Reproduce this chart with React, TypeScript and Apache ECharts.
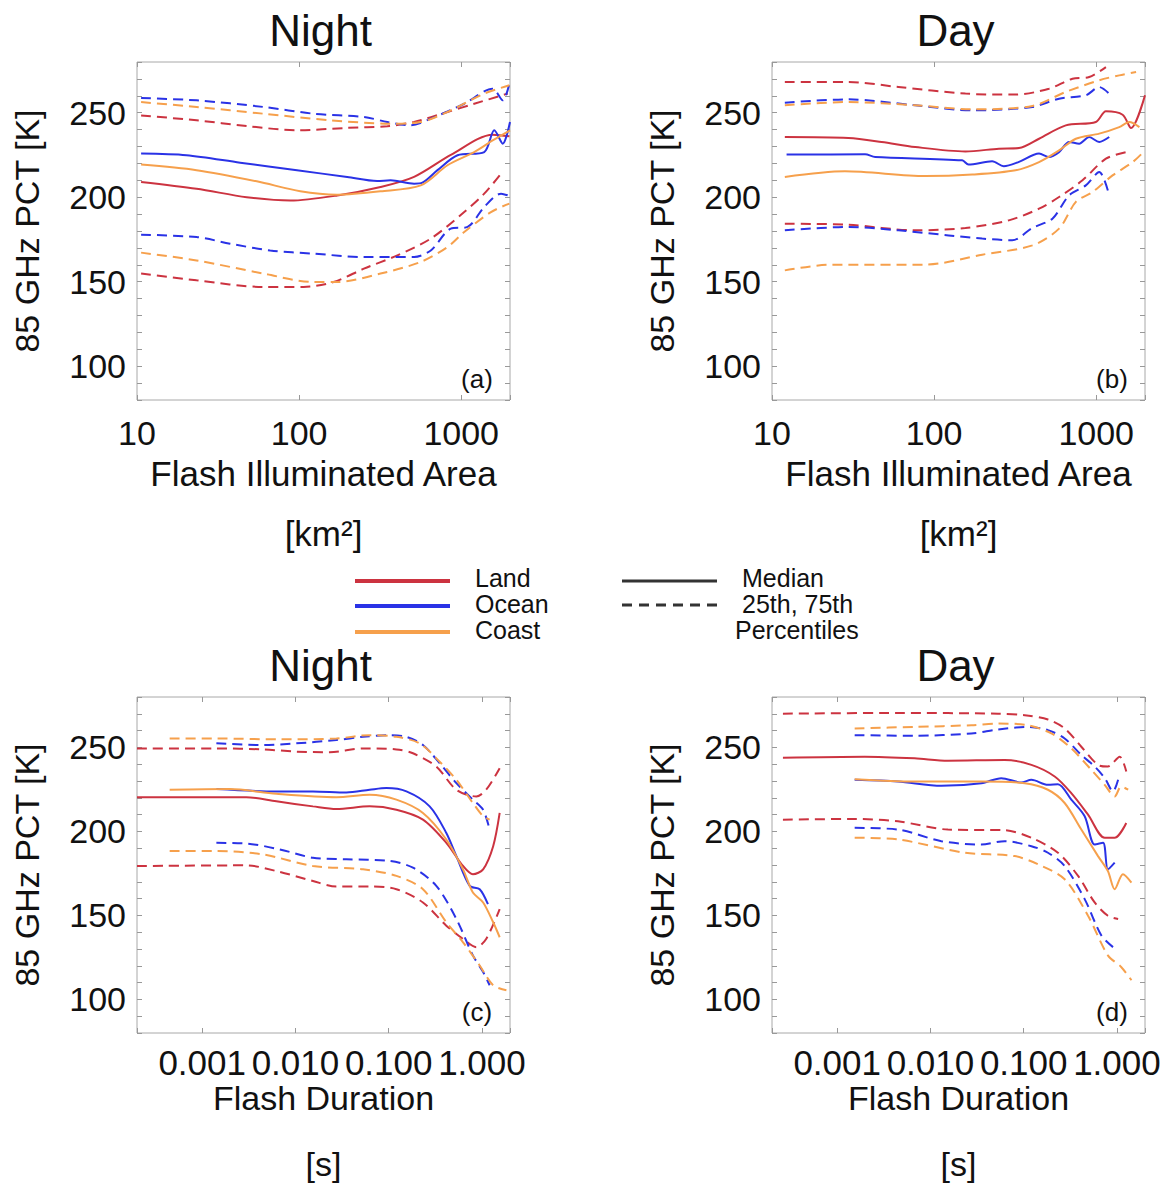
import React, { useEffect, useRef } from "react";
import * as echarts from "echarts";

// ---------- Data (x, 85 GHz PCT [K]) ----------
// Panel (a): Night, Flash Illuminated Area [km2]
const aLandMed = [[10.6,209],[23.3,205],[47.5,200],[88.1,198],[172,201],[318,206],[512,212],[863,225],[1563,237],[1983,236]];
const aOceanMed = [[10.6,225.8],[20.2,224.8],[43.3,220.4],[97,215.9],[198,212],[303,209.6],[367,210],[512,208],[576,208.6],[714,216],[949,224.8],[1387,226.7],[1600,239.6],[1804,231.7],[2000,244.5]];
const aCoastMed = [[10.6,219.3],[23.3,216],[54.8,209.4],[101.7,203.5],[172,201.5],[318,203.5],[563,207],[823,218.9],[1203,226.7],[1563,233.6],[2000,239.6]];
const aLandP75 = [[10.6,248.4],[23.3,245.5],[47.5,242.1],[97,239.6],[198,241],[350,242],[512,244.5],[823,250.4],[1203,255.3],[1937,261.3]];
const aOceanP75 = [[10.6,258.7],[23.3,257.3],[60.3,253.4],[123,249.4],[251,247.5],[350,244.5],[488,242.5],[649,246.5],[1044,255.3],[1563,264.2],[1804,257.3],[1983,267.2]];
const aCoastP75 = [[10.6,256.3],[23.3,253.4],[60.3,249.4],[156,245.5],[367,243.5],[563,244.5],[863,251.4],[1387,261.3],[1983,266.2]];
const aLandP25 = [[10.6,154.8],[23.3,150.8],[60.3,146.9],[106.6,146.9],[163,149.8],[251,157.7],[404,165.6],[649,175.5],[1044,191.2],[1387,202.1],[1762,213.9]];
const aOceanP25 = [[10.6,177.8],[23.3,176.4],[37.5,172.5],[66.3,168.5],[123,166.6],[251,164.6],[512,164.6],[649,168.5],[863,181.4],[1094,182.4],[1387,194.2],[1762,202.1],[1937,201.1]];
const aCoastP25 = [[10.6,167.2],[23.3,162.6],[60.3,154.8],[123,149.8],[172,149.8],[318,154.8],[563,161.7],[823,170.5],[1044,179.4],[1526,191.2],[1983,196.2]];

// Panel (b): Day, Flash Illuminated Area [km2]
const bLandMed = [[12,235.6],[29.6,235],[47.5,232.7],[76.4,229.7],[156,227.1],[251,228.7],[334,229.1],[444,234.6],[649,242.5],[995,244.5],[1148,250.8],[1455,248.8],[1640,240.9],[2000,260.3]];
const bOceanMed = [[12.3,225.2],[37.5,225.4],[43.3,223.8],[149,221.8],[163,219.3],[228,221.3],[269,218.3],[334,220.9],[444,225.8],[512,223.8],[590,226.7],[681,232.7],[785,231.7],[905,235.6],[1044,232.7],[1203,235.6]];
const bCoastMed = [[12,212],[28.2,215.3],[88.1,212.5],[172,213.4],[318,215.9],[444,220.8],[590,227.7],[749,234.6],[1044,237.6],[1387,241.5],[1600,244.5],[1847,241.5]];
const bLandP75 = [[12,268.2],[29.6,268.2],[60.3,265.2],[156,261.3],[318,260.7],[512,264.2],[714,270.1],[905,271.1],[1148,277]];
const bOceanP75 = [[12,255.9],[29.6,257.9],[76.4,254.4],[172,251.4],[404,253.4],[590,258.3],[863,260.3],[1044,265.2],[1203,261.3]];
const bCoastP75 = [[12,254.4],[29.6,256.3],[76.4,254.4],[172,252],[404,254],[649,262.3],[1044,269.2],[1387,272.1],[1762,274.1]];
const bLandP25 = [[12,184.3],[29.6,183.7],[76.4,180.4],[156,181.8],[289,186.3],[444,193.2],[590,200.1],[823,210],[1148,222.8],[1526,226.7]];
const bOceanP25 = [[12,180.4],[29.6,182.4],[60.3,180.4],[123,177.4],[198,175.5],[303,174.5],[404,181.8],[537,187.3],[681,201.1],[863,207],[1044,214.9],[1203,201.1]];
const bCoastP25 = [[12,156.7],[23.3,160.1],[88.1,160.1],[198,166],[404,171.5],[590,181.4],[749,197.2],[949,203.1],[1262,212.9],[1680,220.8],[2000,227.7]];

// Panel (c): Night, Flash Duration [s]
const cLandMed = [[0.0002,220.4],[0.00297,220.4],[0.00624,217.9],[0.0154,214.9],[0.0275,213.3],[0.0625,214.9],[0.121,212.9],[0.233,207],[0.415,193.2],[0.627,179.4],[0.8,174.5],[1.03,177.4],[1.32,191.2],[1.55,211]];
const cOceanMed = [[0.00142,225.2],[0.00624,223.8],[0.0154,223.8],[0.0352,223.2],[0.0625,224.8],[0.0944,225.8],[0.155,223.8],[0.275,214.9],[0.415,199.1],[0.532,185.3],[0.74,167.6],[0.946,165.6],[1.16,156.7]];
const cCoastMed = [[0.000448,224.8],[0.00197,225.2],[0.00624,222.4],[0.0275,220.4],[0.0625,221.8],[0.121,218.9],[0.233,211],[0.415,195.2],[0.627,177.4],[0.8,163.6],[1.03,157.7],[1.32,145.9],[1.55,137]];
const cLandP75 = [[0.0002,249.4],[0.00142,249.4],[0.00449,248.8],[0.0102,247.5],[0.0233,247.1],[0.0531,249.4],[0.121,248.8],[0.182,246.5],[0.324,238.6],[0.532,224.8],[0.871,220.8],[1.11,224.8],[1.55,237.6]];
const cOceanP75 = [[0.00142,252.4],[0.00449,251.4],[0.0102,252.4],[0.0275,254.4],[0.0531,256.3],[0.1025,257.3],[0.155,256.3],[0.233,251.4],[0.352,240.6],[0.532,228.7],[0.8,218.9],[1.03,212.9],[1.21,201.1]];
const cCoastP75 = [[0.000448,255.3],[0.00142,255.3],[0.00678,254.8],[0.0275,255.3],[0.0625,257.3],[0.121,256.3],[0.215,252.4],[0.352,241.5],[0.532,230.7],[0.8,216.9],[1.03,209],[1.21,207]];
const cLandP25 = [[0.0002,179.4],[0.00297,179.8],[0.00624,176.4],[0.0154,170.5],[0.0275,167.2],[0.0625,167.2],[0.121,165.6],[0.233,157.7],[0.415,143.9],[0.627,136],[0.871,131.1],[1.11,136],[1.55,153.8]];
const cOceanP25 = [[0.00142,193.2],[0.00297,192.8],[0.00678,189.3],[0.0154,184.3],[0.0352,183.4],[0.1025,182.4],[0.182,178.4],[0.324,167.6],[0.532,147.9],[0.8,126.2],[1.03,116.3],[1.21,108.4]];
const cCoastP25 = [[0.000448,188.3],[0.00142,188.3],[0.00449,186.3],[0.0154,179.4],[0.0531,177.4],[0.121,173.5],[0.233,165.6],[0.415,145.9],[0.627,134],[0.946,120.2],[1.32,108.4],[1.83,105.4]];

// Panel (d): Day, Flash Duration [s]
const dLandMed = [[0.000262,243.9],[0.00197,244.5],[0.00678,243.5],[0.0154,242.1],[0.0625,242.5],[0.121,239.6],[0.215,232.7],[0.324,222.8],[0.49,210],[0.74,196.2],[0.946,196.2],[1.26,205]];
const dOceanMed = [[0.00154,230.7],[0.00449,229.7],[0.0131,227.1],[0.0352,228.7],[0.0575,231.7],[0.0944,229.1],[0.121,230.7],[0.182,227.7],[0.233,228.1],[0.324,218.9],[0.451,209],[0.577,192.2],[0.71,193.2],[0.8,177.4],[0.946,181.4]];
const dCoastMed = [[0.00154,231.1],[0.00678,229.7],[0.0352,229.7],[0.1025,228.7],[0.182,224.8],[0.275,216.9],[0.415,201.1],[0.627,185.3],[0.8,176.4],[0.946,165.6],[1.16,174.5],[1.43,169.5]];
const dLandP75 = [[0.000262,270.1],[0.00449,270.5],[0.0531,270.1],[0.1025,269.2],[0.182,266.6],[0.275,261.3],[0.415,250.4],[0.627,239.6],[0.8,238.6],[1.07,244.5],[1.26,235.6]];
const dOceanP75 = [[0.00154,257.3],[0.00678,256.9],[0.0275,258.3],[0.0531,260.7],[0.111,262.2],[0.182,260.3],[0.275,255.3],[0.415,245.5],[0.577,238.6],[0.74,231.7],[0.908,223.8],[1.03,230.7]];
const dCoastP75 = [[0.00154,261.3],[0.00678,262.2],[0.0275,263.2],[0.0531,264.2],[0.111,263.2],[0.198,258.3],[0.324,249.4],[0.532,236.6],[0.74,227.7],[0.946,220.8],[1.11,226.7],[1.32,224.8]];
const dLandP25 = [[0.000262,207],[0.00154,207.4],[0.00449,206],[0.0154,201.1],[0.0625,200.7],[0.121,196.2],[0.233,187.3],[0.383,173.5],[0.577,157.7],[0.8,149.8],[1.03,147.9]];
const dOceanP25 = [[0.00154,202.1],[0.00449,201.1],[0.0131,194.2],[0.0352,192.2],[0.0625,194.2],[0.121,191.2],[0.182,187.3],[0.275,179.4],[0.451,159.7],[0.681,138],[0.908,131.1]];
const dCoastP25 = [[0.00154,196.2],[0.00449,195.2],[0.0233,187.3],[0.08,185.3],[0.1425,180.4],[0.275,171.5],[0.49,149.8],[0.8,126.2],[1.11,119.3],[1.43,111.4]];

// ---------- Labels ----------
const TITLES = ["Night", "Day", "Night", "Day"];
const TAGS = ["(a)", "(b)", "(c)", "(d)"];
const Y_NAME = "85 GHz PCT [K]";
const AREA_NAME = "Flash Illuminated Area\n[km²]";
const DUR_NAME = "Flash Duration\n[s]";
const LEGEND_REGIONS = ["Land", "Ocean", "Coast"];
const LEGEND_STATS = ["Median", "25th, 75th", "Percentiles"];
const Y_MIN = 80;
const Y_MAX = 280;
const AREA_MIN = 10;
const AREA_MAX = 2000;
const DUR_MIN = 0.0002;
const DUR_MAX = 2;

// ---------- Styles ----------
const FONT = '"Liberation Sans", Arial, Helvetica, sans-serif';
const RED = "#cc3340";
const BLUE = "#2a32e6";
const ORANGE = "#f6a04c";
const TXT = "#111111";
const BOX = "#a8a8a8";
const DASH = [10, 6];

const PANELS = [
  { left: 137, top: 62, height: 338, kind: "area", sets: [[aLandMed, aLandP25, aLandP75], [aOceanMed, aOceanP25, aOceanP75], [aCoastMed, aCoastP25, aCoastP75]] },
  { left: 772, top: 62, height: 338, kind: "area", sets: [[bLandMed, bLandP25, bLandP75], [bOceanMed, bOceanP25, bOceanP75], [bCoastMed, bCoastP25, bCoastP75]] },
  { left: 137, top: 697, height: 336, kind: "dur", sets: [[cLandMed, cLandP25, cLandP75], [cOceanMed, cOceanP25, cOceanP75], [cCoastMed, cCoastP25, cCoastP75]] },
  { left: 772, top: 697, height: 336, kind: "dur", sets: [[dLandMed, dLandP25, dLandP75], [dOceanMed, dOceanP25, dOceanP75], [dCoastMed, dCoastP25, dCoastP75]] },
];
const PANEL_W = 373;
const COLORS = [RED, BLUE, ORANGE];

function isDecade(v: number) {
  const l = Math.log10(v);
  return Math.abs(l - Math.round(l)) < 1e-6;
}

function textEl(text: string, x: number, y: number, size: number, align = "center") {
  return {
    type: "text",
    x,
    y,
    silent: true,
    style: {
      text,
      fill: TXT,
      fontSize: size,
      fontFamily: FONT,
      align,
      textAlign: align,
      verticalAlign: "middle",
      textVerticalAlign: "middle",
    },
  };
}

function buildOption() {
  const grid: any[] = [];
  const xAxis: any[] = [];
  const yAxis: any[] = [];
  const series: any[] = [];
  const graphic: any[] = [];

  PANELS.forEach((p, i) => {
    grid.push({
      left: p.left,
      top: p.top,
      width: PANEL_W,
      height: p.height,
      show: true,
      borderColor: BOX,
      borderWidth: 1,
      backgroundColor: "transparent",
      containLabel: false,
      outerBoundsMode: "none",
    });
    const isArea = p.kind === "area";
    const xmin = isArea ? AREA_MIN : DUR_MIN;
    const xmax = isArea ? AREA_MAX : DUR_MAX;
    const tick = { show: true, inside: true, length: 5, lineStyle: { color: "#999", width: 1 } };
    xAxis.push({
      type: "log",
      logBase: 10,
      gridIndex: i,
      min: xmin,
      max: xmax,
      position: "bottom",
      axisLine: { show: false },
      axisTick: tick,
      splitLine: { show: false },
      axisLabel: {
        fontSize: isArea ? 34 : 35,
        fontFamily: FONT,
        color: TXT,
        margin: isArea ? 16 : 12,
        formatter: (v: number) => (isDecade(v) ? (isArea ? String(Math.round(v)) : v.toFixed(3)) : ""),
      },
      name: isArea ? AREA_NAME : DUR_NAME,
      nameLocation: "middle",
      nameGap: isArea ? 43 : 32,
      nameMoveOverlap: false,
      nameTextStyle: { fontSize: isArea ? 35 : 34, fontFamily: FONT, color: TXT, lineHeight: isArea ? 60 : 66 },
    });
    xAxis.push({
      type: "log",
      logBase: 10,
      gridIndex: i,
      min: xmin,
      max: xmax,
      position: "top",
      axisLine: { show: false },
      axisTick: tick,
      splitLine: { show: false },
      axisLabel: { show: false },
    });
    yAxis.push({
      type: "value",
      gridIndex: i,
      min: Y_MIN,
      max: Y_MAX,
      interval: 10,
      position: "left",
      axisLine: { show: false },
      axisTick: tick,
      splitLine: { show: false },
      axisLabel: {
        fontSize: 34,
        fontFamily: FONT,
        color: TXT,
        margin: 11,
        formatter: (v: number) => (v % 50 === 0 && v >= 100 && v <= 250 ? String(v) : ""),
      },
      name: Y_NAME,
      nameLocation: "middle",
      nameGap: 93,
      nameMoveOverlap: false,
      nameTextStyle: { fontSize: 34, fontFamily: FONT, color: TXT },
    });
    yAxis.push({
      type: "value",
      gridIndex: i,
      min: Y_MIN,
      max: Y_MAX,
      interval: 10,
      position: "right",
      axisLine: { show: false },
      axisTick: tick,
      splitLine: { show: false },
      axisLabel: { show: false },
    });

    p.sets.forEach((trio, c) => {
      trio.forEach((data, k) => {
        series.push({
          type: "line",
          name: `${TITLES[i]} ${TAGS[i]} ${LEGEND_REGIONS[c]} ${k === 0 ? "median" : k === 1 ? "25th" : "75th"}`,
          xAxisIndex: i * 2,
          yAxisIndex: i * 2,
          data,
          showSymbol: false,
          symbol: "none",
          smooth: 0.3,
          silent: true,
          clip: true,
          lineStyle: { color: COLORS[c], width: 2, type: k === 0 ? "solid" : DASH },
          z: k === 0 ? 3 : 2,
        });
      });
    });

    graphic.push(textEl(TITLES[i], p.left + PANEL_W / 2 - 3, p.top - 32, 44));
    graphic.push(textEl(TAGS[i], p.left + PANEL_W - 33, p.top + p.height - 21, 26));
  });

  // Custom legend
  const rowY = [581, 606, 632];
  const textY = [578, 604, 630];
  COLORS.forEach((col, r) => {
    graphic.push({ type: "line", silent: true, shape: { x1: 355, y1: rowY[r], x2: 450, y2: rowY[r] }, style: { stroke: col, lineWidth: 4 } });
    graphic.push(textEl(LEGEND_REGIONS[r], 475, textY[r], 25, "left"));
  });
  graphic.push({ type: "line", silent: true, shape: { x1: 622, y1: rowY[0], x2: 717, y2: rowY[0] }, style: { stroke: "#333", lineWidth: 3 } });
  graphic.push({ type: "line", silent: true, shape: { x1: 622, y1: 605, x2: 717, y2: 605 }, style: { stroke: "#333", lineWidth: 3, lineDash: [10, 7] } });
  graphic.push(textEl(LEGEND_STATS[0], 742, textY[0], 25, "left"));
  graphic.push(textEl(LEGEND_STATS[1], 742, textY[1], 25, "left"));
  graphic.push(textEl(LEGEND_STATS[2], 735, textY[2], 25, "left"));

  return {
    animation: false,
    backgroundColor: "#ffffff",
    textStyle: { fontFamily: FONT },
    grid,
    xAxis,
    yAxis,
    series,
    graphic,
  };
}

export default function App() {
  const ref = useRef<HTMLDivElement>(null);
  useEffect(() => {
    if (!ref.current) return;
    const chart = echarts.init(ref.current, null, { renderer: "svg" });
    chart.setOption(buildOption() as any);
    return () => chart.dispose();
  }, []);
  return (
    <div
      ref={ref}
      style={{ position: "fixed", left: 0, top: 0, width: 1168, height: 1189, background: "#fff" }}
    />
  );
}
